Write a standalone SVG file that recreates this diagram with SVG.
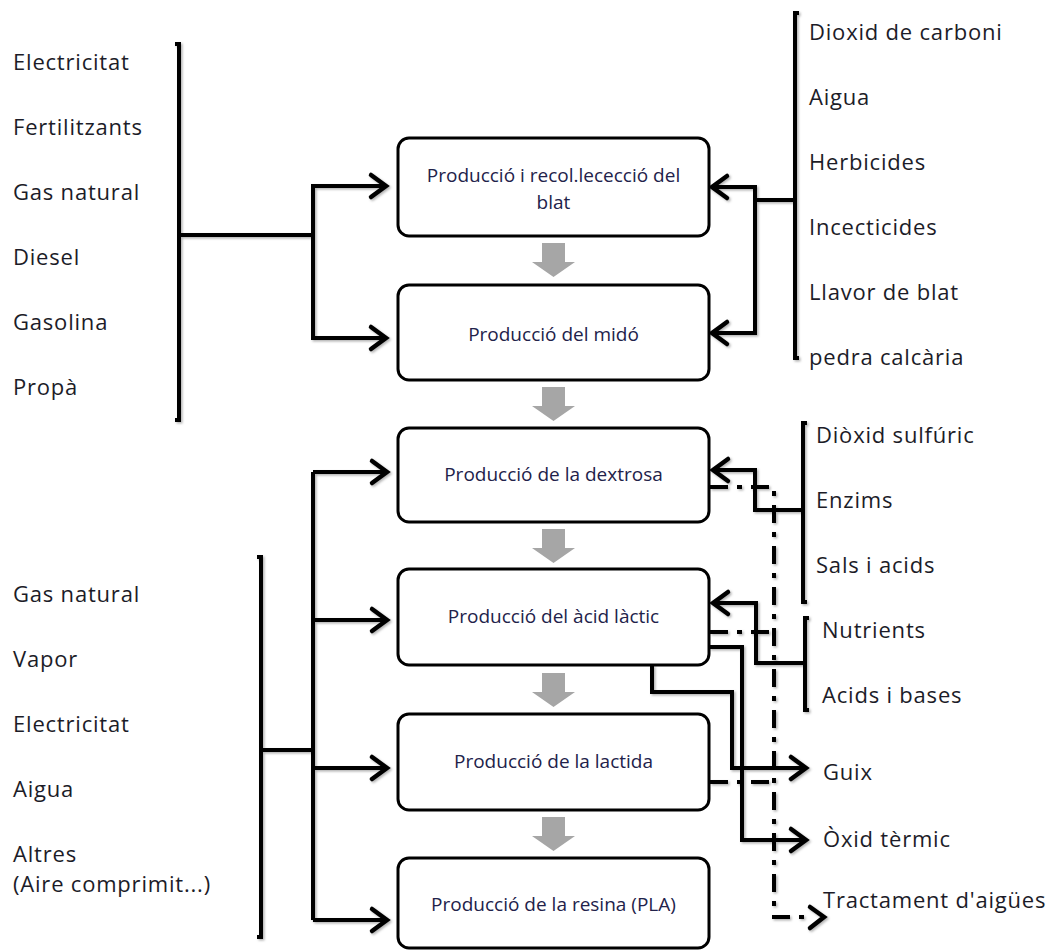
<svg xmlns="http://www.w3.org/2000/svg" width="1051" height="951" viewBox="0 0 1051 951">
  <style>
    .box { fill: #ffffff; stroke: #000; stroke-width: 3; }
    .btxt { font-family: "Open Sans", "Liberation Sans", sans-serif; font-size: 19px; fill: #22224a; text-anchor: middle; }
    .lbl { font-family: "Open Sans", "Liberation Sans", sans-serif; font-size: 22px; fill: #1c1c28; letter-spacing: 0.8px; }
    .ln { fill: none; stroke: #000; stroke-width: 4; stroke-linejoin: miter; stroke-linecap: butt; }
    .arr { marker-end: url(#chev); }
    .dd { fill: none; stroke: #000; stroke-width: 4; stroke-dasharray: 18 9 5 9; }
    .flow { fill: #a6a6a6; }
  </style>
  <defs>
    <marker id="chev" markerUnits="userSpaceOnUse" markerWidth="30" markerHeight="30" refX="0" refY="0" viewBox="-20 -15 24 30" orient="auto" overflow="visible">
      <path d="M -15 -11 L 0 0 L -15 11" fill="none" stroke="#000" stroke-width="4.5" stroke-linecap="round" stroke-linejoin="miter"/>
    </marker>
    <filter id="sh" x="-5%" y="-5%" width="110%" height="110%">
      <feDropShadow dx="1.5" dy="1.5" stdDeviation="1" flood-color="#000" flood-opacity="0.3"/>
    </filter>
  </defs>
  <rect width="1051" height="951" fill="#ffffff"/>

  <!-- process boxes -->
  <g id="n-blat">
    <rect class="box" x="398" y="138" width="311" height="98" rx="11"/>
    <text class="btxt" x="553.5" y="182">Producció i recol.lececció del</text>
    <text class="btxt" x="553.5" y="209">blat</text>
  </g>
  <g id="n-mido">
    <rect class="box" x="398" y="285" width="311" height="95" rx="11"/>
    <text class="btxt" x="553.5" y="341">Producció del midó</text>
  </g>
  <g id="n-dextrosa">
    <rect class="box" x="398" y="428" width="311" height="94" rx="11"/>
    <text class="btxt" x="553.5" y="481">Producció de la dextrosa</text>
  </g>
  <g id="n-lactic">
    <rect class="box" x="398" y="569" width="311" height="96" rx="11"/>
    <text class="btxt" x="553.5" y="623">Producció del àcid làctic</text>
  </g>
  <g id="n-lactida">
    <rect class="box" x="398" y="714" width="311" height="96" rx="11"/>
    <text class="btxt" x="553.5" y="768">Producció de la lactida</text>
  </g>
  <g id="n-pla">
    <rect class="box" x="398" y="858" width="311" height="90" rx="11"/>
    <text class="btxt" x="553.5" y="911">Producció de la resina (PLA)</text>
  </g>

  <!-- grey flow arrows -->
  <g id="flow-arrows">
    <path class="flow" d="M542 243 H565 V262 H575 L553.5 277 L532 262 H542 Z"/>
    <path class="flow" d="M542 387 H565 V406 H575 L553.5 421 L532 406 H542 Z"/>
    <path class="flow" d="M542 529 H565 V548 H575 L553.5 563 L532 548 H542 Z"/>
    <path class="flow" d="M542 673 H565 V692 H575 L553.5 707 L532 692 H542 Z"/>
    <path class="flow" d="M542 817 H565 V836 H575 L553.5 851 L532 836 H542 Z"/>
  </g>

  <!-- input / output label groups -->
  <g id="n-inputs-top-left">
    <text class="lbl" x="13" y="70">Electricitat</text>
    <text class="lbl" x="13" y="135">Fertilitzants</text>
    <text class="lbl" x="13" y="200">Gas natural</text>
    <text class="lbl" x="13" y="265">Diesel</text>
    <text class="lbl" x="13" y="330">Gasolina</text>
    <text class="lbl" x="13" y="395">Propà</text>
  </g>
  <g id="n-inputs-top-right">
    <text class="lbl" x="809" y="40">Dioxid de carboni</text>
    <text class="lbl" x="809" y="105">Aigua</text>
    <text class="lbl" x="809" y="170">Herbicides</text>
    <text class="lbl" x="809" y="235">Incecticides</text>
    <text class="lbl" x="809" y="300">Llavor de blat</text>
    <text class="lbl" x="809" y="365">pedra calcària</text>
  </g>
  <g id="n-inputs-dextrosa">
    <text class="lbl" x="816" y="443">Diòxid sulfúric</text>
    <text class="lbl" x="816" y="508">Enzims</text>
    <text class="lbl" x="816" y="573">Sals i acids</text>
  </g>
  <g id="n-inputs-lactic">
    <text class="lbl" x="822" y="638">Nutrients</text>
    <text class="lbl" x="822" y="703">Acids i bases</text>
  </g>
  <g id="n-guix"><text class="lbl" x="823" y="780">Guix</text></g>
  <g id="n-oxid"><text class="lbl" x="823" y="847">Òxid tèrmic</text></g>
  <g id="n-aigues"><text class="lbl" x="823" y="908">Tractament d'aigües</text></g>
  <g id="n-inputs-bottom-left">
    <text class="lbl" x="13" y="602">Gas natural</text>
    <text class="lbl" x="13" y="667">Vapor</text>
    <text class="lbl" x="13" y="732">Electricitat</text>
    <text class="lbl" x="13" y="797">Aigua</text>
    <text class="lbl" x="13" y="862">Altres</text>
    <text class="lbl" x="13" y="892">(Aire comprimit...)</text>
  </g>

  <!-- connectors -->
  <g id="connectors" filter="url(#sh)">
    <!-- brackets -->
    <path class="ln" d="M175 44 H179 V420 H175"/>
    <path class="ln" d="M799 13 H795 V358 H799"/>
    <path class="ln" d="M807 423 H803 V602 H807"/>
    <path class="ln" d="M809 618 H805 V710 H809"/>
    <path class="ln" d="M257 557 H261 V937 H257"/>

    <!-- top-left inputs -->
    <path class="ln" d="M179 235 H313"/>
    <path class="ln arr" d="M313 235 V186 H386"/>
    <path class="ln arr" d="M313 235 V338 H386"/>

    <!-- top-right inputs -->
    <path class="ln" d="M795 200 H755"/>
    <path class="ln arr" d="M755 200 V187 H712"/>
    <path class="ln arr" d="M755 200 V333 H712"/>

    <!-- bottom-left inputs -->
    <path class="ln" d="M261 750 H313"/>
    <path class="ln" d="M313 472 V920"/>
    <path class="ln arr" d="M313 472 H387"/>
    <path class="ln arr" d="M313 620 H387"/>
    <path class="ln arr" d="M313 768 H387"/>
    <path class="ln arr" d="M313 920 H387"/>

    <!-- middle-right inputs -->
    <path class="ln arr" d="M803 510 H755 V470 H713"/>
    <path class="ln arr" d="M805 663 H756 V603 H713"/>

    <!-- outputs from àcid làctic -->
    <path class="ln arr" d="M652 665 V692 H732 V768 H806"/>
    <path class="ln arr" d="M709 647 H742 V840 H806"/>

    <!-- water treatment (dash-dot) -->
    <path class="dd" d="M710 487 H774 V917 H808"/>
    <path class="dd" d="M710 632 H774"/>
    <path class="dd" d="M710 782 H774"/>
    <path d="M810 907 L824 917 L810 928" fill="none" stroke="#000" stroke-width="4.5" stroke-linecap="round"/>
  </g>
</svg>
